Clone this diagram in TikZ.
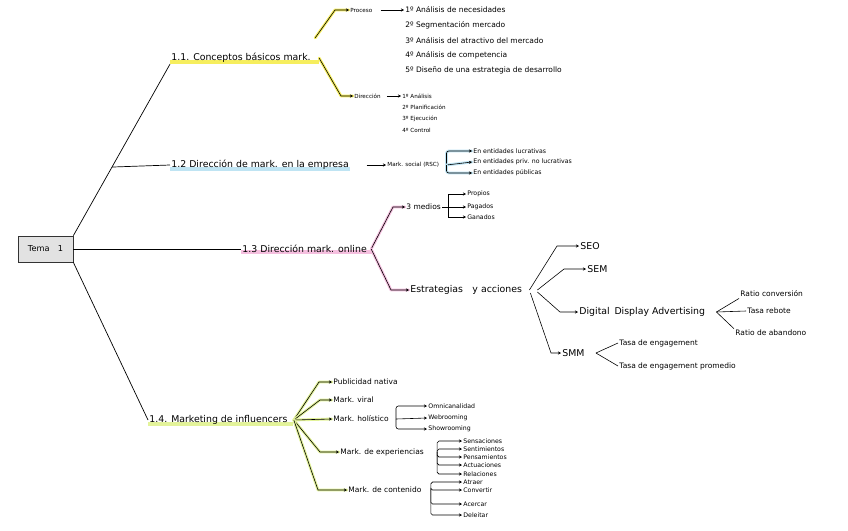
\documentclass[tikz,border=0pt]{standalone}
\usepackage{fontspec}
\setmainfont{DejaVu Sans}
\usetikzlibrary{arrows.meta,positioning,calc,backgrounds}
\definecolor{hY}{HTML}{F6EE5E}
\definecolor{hB}{HTML}{BFE4F3}
\definecolor{hP}{HTML}{F5BFDF}
\definecolor{hG}{HTML}{E3F39A}
\definecolor{boxG}{HTML}{E2E2E2}
\tikzset{
  topic/.style={draw=black!80,fill=boxG,line width=0.6pt,minimum width=1.65cm,
                minimum height=0.78cm,font=\fontsize{7}{8}\selectfont},
  lblA/.style={anchor=west,inner sep=1pt,font=\fontsize{8}{9}\selectfont},
  lblB/.style={anchor=west,inner sep=1pt,font=\fontsize{6.4}{7}\selectfont},
  lblC/.style={anchor=west,inner sep=1pt,font=\fontsize{5.3}{6}\selectfont},
  lblD/.style={anchor=west,inner sep=1pt,font=\fontsize{4.8}{5}\selectfont},
  trunk/.style={line width=0.6pt,black},
  twig/.style={line width=0.5pt,black},
  arr/.style={-{Stealth[length=2.6pt,width=2.6pt]},line width=0.5pt,black},
  glow/.style={preaction={draw=#1,-,line width=2.4pt,line cap=round,line join=round}},
  hl/.style={line width=3.5pt,draw=#1,line cap=butt},
}

\begin{document}
\begin{tikzpicture}[x=0.03cm,y=-0.03cm]
  \useasboundingbox (0,0) rectangle (848,530);
  \node[topic] (tema) at (45.5,249) {Tema\quad 1};
  % main branches
  \node[lblA] (c11) at (170,58) {1.1. Conceptos básicos mark.};
  \node[lblA] (c12) at (170,165) {1.2 Dirección de mark. en la empresa};
  \node[lblA] (c13) at (241,249) {1.3 Dirección mark. online};
  \node[lblA] (c14) at (148,420) {1.4. Marketing de influencers};
  \draw[trunk] (tema.north east) -- (c11.south west);
  \coordinate (j12) at ($(tema.north east)!0.4!(c11.south west)$);
  \draw[trunk] (j12) -- (c12.west);
  \draw[trunk] (tema.east) -- (c13.west);
  \draw[trunk] (tema.south east) -- (c14.west);

  % 1.1
  \coordinate (b11u) at ($(c11.east)+(3,-20)$);
  \coordinate (b11) at ($(c11.east)+(7,0)$);
  \node[lblD] (proc) at (349,10) {Proceso};
  \node[lblD] (dire) at (353,96) {Dirección};
  \draw[arr,glow=hY] (b11u) -- ($(proc.west)+(-14,0)$) -- (proc.west);
  \draw[arr,glow=hY] (b11) -- ($(dire.west)+(-12,0)$) -- (dire.west);
  \foreach \t [count=\i] in {1º Análisis de necesidades,2º Segmentación mercado,
      3º Análisis del atractivo del mercado,4º Análisis de competencia,
      5º Diseño de una estrategia de desarrollo}
    \node[lblB] (p\i) at (404,{10+15.2*(\i-1)}) {\t};
  \draw[arr,shorten <=6pt] (proc.east) -- (p1.west);
  \foreach \t [count=\i] in {1º Análisis,2º Planificación,3º Ejecución,4º Control}
    \node[lblD] (d\i) at (401,{96+11.5*(\i-1)}) {\t};
  \draw[arr,shorten <=4pt] (dire.east) -- (d1.west);

  % 1.2
  \node[lblD] (rsc) at (386,165) {Mark. social (RSC)};
  \draw[arr,shorten <=14pt] (c12.east) -- (rsc.west);
  \node[lblC] (e1) at (472,151) {En entidades lucrativas};
  \node[lblC] (e2) at (472,162) {En entidades priv. no lucrativas};
  \node[lblC] (e3) at (472,173) {En entidades públicas};
  \coordinate (s12) at ($(rsc.east)+(6,0)$);
  \draw[arr,rounded corners=2pt,glow=hB] (s12) |- (e1.west);
  \draw[arr,glow=hB] (s12) -- (e2.west);
  \draw[arr,rounded corners=2pt,glow=hB] (s12) |- (e3.west);

  % 1.3
  \coordinate (b13) at ($(c13.east)+(3,0)$);
  \node[lblB] (med) at (405,207) {3 medios};
  \node[lblA] (est) at (409,290) {Estrategias\quad y acciones};
  \draw[arr,glow=hP] (b13) -- ($(med.west)+(-12,0)$) -- (med.west);
  \draw[arr,glow=hP] (b13) -- ($(est.west)+(-18,0)$) -- (est.west);
  \node[lblC] (pr1) at (466,194) {Propios};
  \node[lblC] (pr2) at (466,207) {Pagados};
  \node[lblC] (pr3) at (466,217) {Ganados};
  \coordinate (s13) at ($(med.east)+(6,0)$);
  \draw[arr] (s13) |- (pr1.west);
  \draw[arr] (med.east) -- (pr2.west);
  \draw[arr] (s13) |- (pr3.west);
  % estrategias
  \node[lblA] (seo) at (579,246) {SEO};
  \node[lblA] (sem) at (586,269) {SEM};
  \node[lblA] (dda) at (578,312) {Digital\enspace Display Advertising};
  \node[lblA] (smm) at (561,353) {SMM};
  \coordinate (s14) at ($(est.east)+(6,0)$);
  \draw[arr] (s14) -- ($(seo.west)+(-22,0)$) -- (seo.west);
  \draw[arr] ($(s14)+(8,0)$) -- ($(sem.west)+(-22,0)$) -- (sem.west);
  \draw[arr] ($(s14)+(8,2)$) -- ($(dda.west)+(-18,0)$) -- (dda.west);
  \draw[arr] ($(s14)+(1,3)$) -- ($(smm.west)+(-10,0)$) -- (smm.west);
  \node[lblB] (r1) at (739,294) {Ratio conversión};
  \node[lblB] (r2) at (746,311) {Tasa rebote};
  \node[lblB] (r3) at (734,333) {Ratio de abandono};
  \coordinate (s15) at ($(dda.east)+(10,0)$);
  \draw[twig] (s15) -- (r1.south west);
  \draw[twig] (s15) -- (r2.west);
  \draw[twig] (s15) -- (r3.north west);
  \node[lblB] (t1) at (618,343) {Tasa de engagement};
  \node[lblB] (t2) at (618,366) {Tasa de engagement promedio};
  \coordinate (s16) at ($(smm.east)+(10,0)$);
  \draw[twig] (s16) -- (t1.west);
  \draw[twig] (s16) -- (t2.west);

  % 1.4
  \coordinate (b14) at ($(c14.east)+(5,0)$);
  \node[lblB] (pub) at (332,382) {Publicidad nativa};
  \node[lblB] (vir) at (332,400) {Mark. viral};
  \node[lblB] (hol) at (332,419) {Mark. holístico};
  \node[lblB] (exp) at (339,452) {Mark. de experiencias};
  \node[lblB] (con) at (347,490) {Mark. de contenido};
  \draw[arr,glow=hG] (b14) -- ($(pub.west)+(-13,0)$) -- (pub.west);
  \draw[arr,glow=hG] (b14) -- ($(vir.west)+(-12,0)$) -- (vir.west);
  \draw[arr,glow=hG] (b14) -- (hol.west);
  \draw[arr,glow=hG] (b14) -- ($(exp.west)+(-19,0)$) -- (exp.west);
  \draw[arr,glow=hG] (b14) -- ($(con.west)+(-29,0)$) -- (con.west);
  \node[lblC] (om) at (427,406) {Omnicanalidad};
  \node[lblC] (web) at (427,418) {Webrooming};
  \node[lblC] (sho) at (427,429) {Showrooming};
  \coordinate (s17) at ($(hol.east)+(6,0)$);
  \draw[arr,rounded corners=2pt] (s17) |- (om.west);
  \draw[arr] (s17) -- (web.west);
  \draw[arr,rounded corners=2pt] (s17) |- (sho.west);
  \foreach \n/\t/\y in {sens/Sensaciones/441,senti/Sentimientos/449,
      pens/Pensamientos/457,act/Actuaciones/465,rel/Relaciones/474}{
    \node[lblC] (\n) at (462,\y) {\t};
    \draw[arr,rounded corners=1.5pt] ($(exp.east)+(12,0)$) |- (\n.west);}
  \foreach \n/\t/\y in {atr/Atraer/482,cnv/Convertir/490,
      acr/Acercar/504,del/Deleitar/515}{
    \node[lblC] (\n) at (462,\y) {\t};
    \draw[arr,rounded corners=1.5pt] ($(con.east)+(8,0)$) |- (\n.west);}

  % highlighter bands
  \begin{scope}[on background layer]
    \draw[hl=hY] ([yshift=2pt]c11.south west) -- ([yshift=2pt,xshift=6pt]c11.south east);
    \draw[hl=hB] ([yshift=2pt]c12.south west) -- ([yshift=2pt]c12.south east);
    \draw[hl=hP] ([yshift=2pt]c13.south west) -- ([yshift=2pt,xshift=3pt]c13.south east);
    \draw[hl=hG] ([yshift=2pt]c14.south west) -- ([yshift=2pt,xshift=4pt]c14.south east);
  \end{scope}
\end{tikzpicture}
\end{document}
